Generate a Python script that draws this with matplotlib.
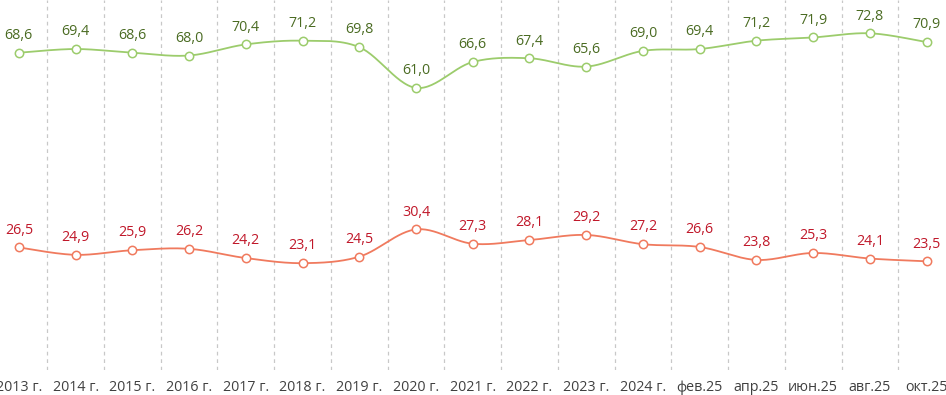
import numpy as np
import matplotlib
matplotlib.use("Agg")
import matplotlib.pyplot as plt

categories = ["2013 г.", "2014 г.", "2015 г.", "2016 г.", "2017 г.", "2018 г.", "2019 г.",
              "2020 г.", "2021 г.", "2022 г.", "2023 г.", "2024 г.", "фев.25", "апр.25",
              "июн.25", "авг.25", "окт.25"]
green_values = [68.6, 69.4, 68.6, 68.0, 70.4, 71.2, 69.8, 61.0, 66.6, 67.4, 65.6, 69.0,
                69.4, 71.2, 71.9, 72.8, 70.9]
red_values = [26.5, 24.9, 25.9, 26.2, 24.2, 23.1, 24.5, 30.4, 27.3, 28.1, 29.2, 27.2,
              26.6, 23.8, 25.3, 24.1, 23.5]

GREEN_LINE = "#9ccc6c"
GREEN_TEXT = "#4a6b22"
RED_LINE = "#f07a5e"
RED_TEXT = "#c0182a"

plt.rcParams['font.family'] = ['Open Sans', 'DejaVu Sans']

W, H = 946, 395
fig = plt.figure(figsize=(W / 100, H / 100), dpi=100)
left_px, width_px = -9.5, 964.5
bottom_px = 395 - 370
ax = fig.add_axes([left_px / W, bottom_px / H, width_px / W, (H - bottom_px) / H])

n = len(categories)
x = np.arange(n)


def smooth(xs, ys, steps=30):
    xs = np.asarray(xs, float)
    ys = np.asarray(ys, float)
    px, py = [], []
    for i in range(len(xs) - 1):
        p0 = (xs[max(i - 1, 0)], ys[max(i - 1, 0)])
        p1 = (xs[i], ys[i])
        p2 = (xs[i + 1], ys[i + 1])
        p3 = (xs[min(i + 2, len(xs) - 1)], ys[min(i + 2, len(xs) - 1)])
        c1 = (p1[0] + (p2[0] - p0[0]) / 6, p1[1] + (p2[1] - p0[1]) / 6)
        c2 = (p2[0] - (p3[0] - p1[0]) / 6, p2[1] - (p3[1] - p1[1]) / 6)
        t = np.linspace(0, 1, steps)
        bx = (1 - t) ** 3 * p1[0] + 3 * (1 - t) ** 2 * t * c1[0] + 3 * (1 - t) * t ** 2 * c2[0] + t ** 3 * p2[0]
        by = (1 - t) ** 3 * p1[1] + 3 * (1 - t) ** 2 * t * c1[1] + 3 * (1 - t) * t ** 2 * c2[1] + t ** 3 * p2[1]
        px.extend(bx)
        py.extend(by)
    return np.array(px), np.array(py)


for vals, lc, tc in [(green_values, GREEN_LINE, GREEN_TEXT), (red_values, RED_LINE, RED_TEXT)]:
    sx, sy = smooth(x, vals)
    ax.plot(sx, sy, color=lc, lw=1.3, zorder=3, solid_capstyle='round')
    ax.plot(x, vals, linestyle='none', marker='o', ms=6, mfc='white', mec=lc, mew=1.1, zorder=4)
    for xi, v in zip(x, vals):
        ax.annotate(f"{v:.1f}".replace('.', ','), (xi, v), xytext=(0, 7), textcoords='offset points',
                    ha='center', va='bottom', color=tc, fontsize=10.3)

for b in np.arange(-0.5, n + 0.5, 1.0):
    ax.axvline(b, color="#c8c8c8", lw=0.9, ls=(0, (3, 3)), zorder=1)

ax.set_xlim(-0.5, n - 0.5)
ax.set_ylim(0, 80)
ax.set_xticks(x)
ax.set_xticklabels(categories, fontsize=10.3, color="#404040")
ax.tick_params(axis='x', length=0, pad=7)
ax.set_yticks([])
for s in ax.spines.values():
    s.set_visible(False)

fig.savefig("out.png", dpi=100)
